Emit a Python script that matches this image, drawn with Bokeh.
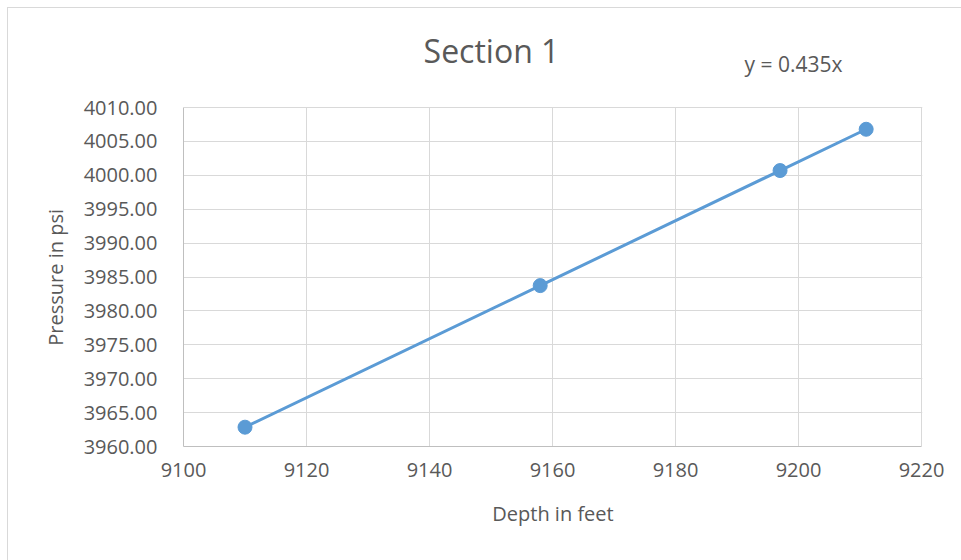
from bokeh.plotting import figure
from bokeh.models import Label, FixedTicker, NumeralTickFormatter, ColumnDataSource, Range1d
from bokeh.embed import file_html
from bokeh.resources import INLINE

depth_ft = [9110, 9158, 9197, 9211]
pressure_psi = [3962.85, 3983.73, 4000.70, 4006.79]
x_ticks = [9100, 9120, 9140, 9160, 9180, 9200, 9220]
y_ticks = [3960, 3965, 3970, 3975, 3980, 3985, 3990, 3995, 4000, 4005, 4010]
title_text = "Section 1"
equation_text = "y = 0.435x"
x_label = "Depth in feet"
y_label = "Pressure in psi"

FONT = "Open Sans"
TXT = "#595959"
GRID = "#d9d9d9"

src = ColumnDataSource(dict(x=depth_ft, y=pressure_psi))

# The frame is extended upward (to the top of the chart) so the title texts sit inside it;
# the value axis, gridlines and borders are bounded to the tick range.
FRAME_H = 437
px_per_psi = 339 / (y_ticks[-1] - y_ticks[0])
y_top = y_ticks[0] + FRAME_H / px_per_psi

p = figure(width=954, height=553, output_backend="svg", toolbar_location=None,
           x_range=Range1d(x_ticks[0], x_ticks[-1] + 0.16), y_range=Range1d(y_ticks[0], y_top),
           min_border_left=175, min_border_right=40, min_border_top=1, min_border_bottom=115,
           background_fill_color="white", border_fill_color="white",
           styles={"margin-left": "7px", "margin-top": "7px",
                   "border-left": "1px solid #d9d9d9", "border-top": "1px solid #d9d9d9"})
p.outline_line_color = None

p.xaxis.ticker = FixedTicker(ticks=x_ticks)
p.yaxis.ticker = FixedTicker(ticks=y_ticks)
p.yaxis.formatter = NumeralTickFormatter(format="0.00")
p.xaxis.bounds = (x_ticks[0], x_ticks[-1])
p.yaxis.bounds = (y_ticks[0], y_ticks[-1])
for ax in (p.xaxis[0], p.yaxis[0]):
    ax.major_tick_line_color = None
    ax.minor_tick_line_color = None
    ax.axis_line_color = "#bfbfbf"
    ax.axis_line_width = 1
    ax.major_label_text_font = FONT
    ax.major_label_text_font_size = "20px"
    ax.major_label_text_color = TXT
    ax.axis_label_text_font = FONT
    ax.axis_label_text_font_size = "20px"
    ax.axis_label_text_color = TXT
    ax.axis_label_text_font_style = "normal"
p.xaxis.axis_label = x_label
# the axis label is centred on the (extended) frame; trailing no-break spaces
# shift the visible words down to the middle of the 3960-4010 range
p.yaxis.axis_label = y_label + "\u00a0" * 19
p.yaxis.major_label_standoff = 20
p.xaxis.major_label_standoff = 10
p.xaxis.axis_label_standoff = 20
p.yaxis.axis_label_standoff = 12

p.xgrid.visible = False
p.ygrid.grid_line_color = GRID

# vertical gridlines, bounded to the value range
vx = x_ticks[1:]
p.segment(x0=vx, y0=[y_ticks[0]] * len(vx), x1=vx, y1=[y_ticks[-1]] * len(vx),
          line_color=GRID, line_width=1)

p.line("x", "y", source=src, line_color="#5b9bd5", line_width=3)
p.scatter("x", "y", source=src, size=14, fill_color="#5b9bd5", line_color="#5b9bd5")

# screen units: pixels from the frame's bottom-left corner
p.add_layout(Label(x=308, y=396, x_units="screen", y_units="screen", text=title_text,
                   text_font=FONT, text_font_size="32px", text_color=TXT,
                   text_align="center", text_baseline="middle"))
p.add_layout(Label(x=610, y=383, x_units="screen", y_units="screen", text=equation_text,
                   text_font=FONT, text_font_size="21px", text_color=TXT,
                   text_align="center", text_baseline="middle"))

open("out.html", "w").write(file_html(p, INLINE))
